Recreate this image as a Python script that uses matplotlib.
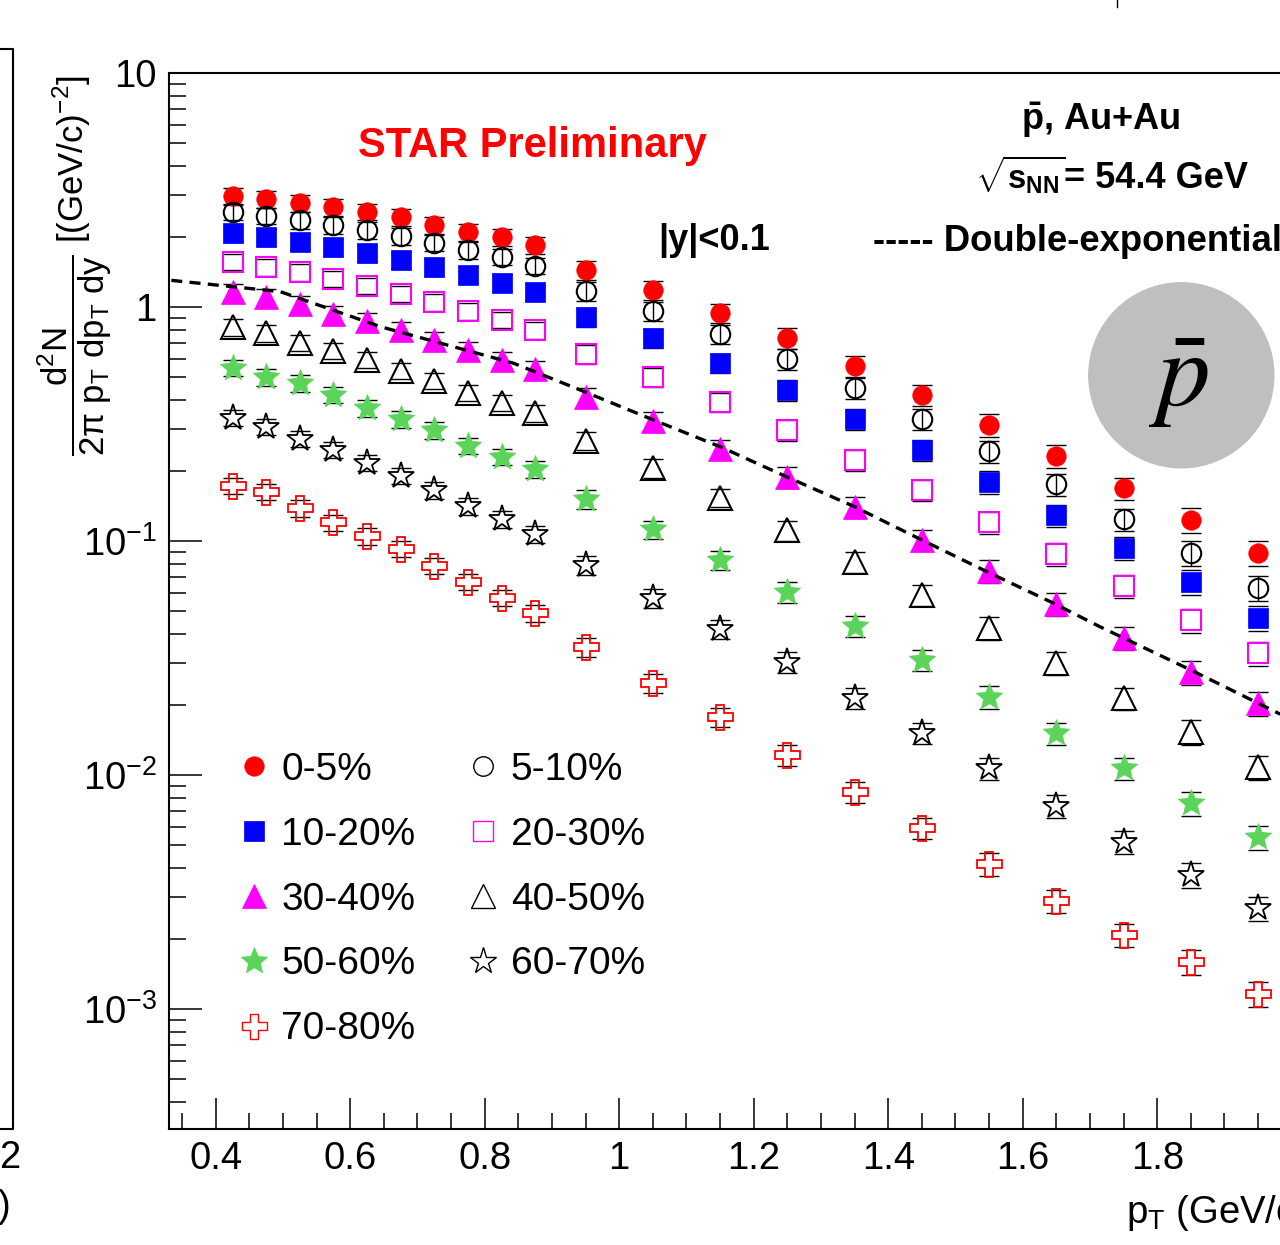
"""Anti-proton pT spectra in Au+Au at 54.4 GeV, STAR-preliminary style panel."""

import matplotlib
matplotlib.use("Agg")
import matplotlib.pyplot as plt
import numpy as np
from matplotlib.lines import Line2D
from matplotlib.patches import Ellipse
from matplotlib.path import Path
from matplotlib.ticker import FixedLocator, LogLocator, MultipleLocator, NullFormatter

plt.rcParams["font.family"] = ["Liberation Sans", "DejaVu Sans"]
plt.rcParams["mathtext.fontset"] = "custom"
plt.rcParams["mathtext.rm"] = "Liberation Sans"
plt.rcParams["mathtext.it"] = "Liberation Sans:italic"
plt.rcParams["mathtext.bf"] = "Liberation Sans:bold"
plt.rcParams["mathtext.default"] = "regular"

# ---- data ----
pt = [0.425, 0.475, 0.525, 0.575, 0.625, 0.675, 0.725, 0.775, 0.825, 0.875,
      0.95, 1.05, 1.15, 1.25, 1.35, 1.45, 1.55, 1.65, 1.75, 1.85, 1.95]

cent_labels = ["0-5%", "5-10%", "10-20%", "20-30%", "30-40%",
               "40-50%", "50-60%", "60-70%", "70-80%"]

y_0_5 = [2.98, 2.89, 2.78, 2.67, 2.55, 2.42, 2.24, 2.09, 1.99, 1.84,
         1.44, 1.18, 0.943, 0.737, 0.560, 0.421, 0.313, 0.231, 0.168, 0.123, 0.0889]
y_5_10 = [2.55, 2.45, 2.35, 2.24, 2.13, 2.01, 1.88, 1.75, 1.64, 1.50,
          1.17, 0.961, 0.767, 0.600, 0.451, 0.332, 0.242, 0.175, 0.124, 0.0889, 0.0630]
y_10_20 = [2.07, 1.99, 1.90, 1.80, 1.70, 1.59, 1.48, 1.37, 1.27, 1.16,
           0.906, 0.737, 0.576, 0.442, 0.332, 0.245, 0.179, 0.129, 0.0933, 0.0668, 0.0469]
y_20_30 = [1.56, 1.48, 1.41, 1.32, 1.23, 1.14, 1.05, 0.961, 0.880, 0.797,
           0.630, 0.502, 0.393, 0.298, 0.222, 0.165, 0.120, 0.0880, 0.0642, 0.0459, 0.0332]
y_30_40 = [1.16, 1.10, 1.03, 0.933, 0.871, 0.797, 0.723, 0.655, 0.594, 0.543,
           0.413, 0.326, 0.247, 0.188, 0.140, 0.101, 0.0745, 0.0538, 0.0385, 0.0275, 0.0203]
y_40_50 = [0.821, 0.774, 0.702, 0.649, 0.594, 0.533, 0.483, 0.429, 0.389, 0.352,
           0.268, 0.205, 0.153, 0.111, 0.0813, 0.0588, 0.0425, 0.0301, 0.0213, 0.0153, 0.0108]
y_50_60 = [0.549, 0.502, 0.473, 0.421, 0.370, 0.332, 0.298, 0.255, 0.229, 0.203,
           0.151, 0.112, 0.0830, 0.0606, 0.0433, 0.0310, 0.0216, 0.0151, 0.0107, 0.00759, 0.00543]
y_60_70 = [0.336, 0.307, 0.273, 0.245, 0.216, 0.190, 0.165, 0.141, 0.124, 0.107,
           0.0789, 0.0571, 0.0421, 0.0304, 0.0213, 0.0151, 0.0107, 0.00738, 0.00517, 0.00374, 0.00270]
y_70_80 = [0.172, 0.162, 0.138, 0.120, 0.105, 0.0925, 0.0782, 0.0668, 0.0571, 0.0492,
           0.0352, 0.0247, 0.0177, 0.0122, 0.00846, 0.00594, 0.00417, 0.00290, 0.00207, 0.00159, 0.00116]

# relative size of the (black) error bars, per pT bin
rel_err = [0.08, 0.08, 0.08, 0.08, 0.08, 0.08, 0.08, 0.08, 0.08, 0.08,
           0.09, 0.09, 0.09, 0.10, 0.10, 0.10, 0.11, 0.11, 0.11, 0.12, 0.12]

# double-exponential curve (drawn through the 30-40% points)
fit_pt = [0.334, 0.496, 0.645, 0.843, 0.942, 1.051, 1.150, 1.249, 1.348,
          1.447, 1.547, 1.646, 1.715, 1.850, 1.983]
fit_y = [1.30, 1.163, 0.824, 0.575, 0.442, 0.329, 0.253, 0.188, 0.141,
         0.102, 0.0739, 0.0542, 0.0430, 0.0281, 0.0182]

xtick_vals = [0.4, 0.6, 0.8, 1.0, 1.2, 1.4, 1.6, 1.8, 2.0]
xtick_labels = ["0.4", "0.6", "0.8", "1", "1.2", "1.4", "1.6", "1.8", "2"]
ytick_vals = [1e-3, 1e-2, 1e-1, 1, 10]
ytick_labels = [r"$10^{-3}$", r"$10^{-2}$", r"$10^{-1}$", "1", "10"]

# ---- styles ----
GREEN = "#5ad55a"
fat_star = Path.unit_regular_star(5, innerCircle=0.45)
styles = [
    dict(marker="o", ms=14, mfc="red", mec="red", mew=0.5),
    dict(marker="o", ms=14, mfc="none", mec="black", mew=1.5),
    dict(marker="s", ms=14, mfc="blue", mec="blue", mew=0.5),
    dict(marker="s", ms=13.8, mfc="none", mec="magenta", mew=1.5),
    dict(marker="^", ms=17, mfc="magenta", mec="magenta", mew=0.5),
    dict(marker="^", ms=17, mfc="none", mec="black", mew=1.5),
    dict(marker=fat_star, ms=20, mfc=GREEN, mec=GREEN, mew=0.5),
    dict(marker="*", ms=20, mfc="none", mec="black", mew=1.3),
    dict(marker="P", ms=18, mfc="none", mec="red", mew=1.3),
]
series = [y_0_5, y_5_10, y_10_20, y_20_30, y_30_40, y_40_50, y_50_60, y_60_70, y_70_80]
# only the 5-10% points show the bar through the marker; others show just the caps
full_bar = [False, True, False, False, False, False, False, False, False]

W, H = 1280, 1245


def fx(px):
    return px / W


def fy(py):
    return 1 - py / H


fig = plt.figure(figsize=(W / 100, H / 100), dpi=100)
ax = fig.add_axes([fx(169.3), fy(1128.7), 1122.4 / W, (1128.7 - 73) / H])
ax.set_yscale("log")
ax.set_xlim(0.331, 2.0)
ax.set_ylim(3.08e-4, 10)

for i, (vals, st) in enumerate(zip(series, styles)):
    vals = np.asarray(vals)
    ax.errorbar(pt, vals, yerr=vals * np.asarray(rel_err), fmt="none", ecolor="black",
                elinewidth=1.0 if full_bar[i] else 0, capsize=7, capthick=1.0,
                zorder=3 + 2 * i)
    ax.plot(pt, vals, ls="none", zorder=4 + 2 * i, **st)

ax.plot(fit_pt, fit_y, color="black", lw=2.4, ls=(0, (3.3, 2.2)), zorder=30)

# axes styling (ROOT-like: inward ticks on left/bottom only)
ax.set_xticks(xtick_vals, labels=xtick_labels)
ax.xaxis.set_minor_locator(MultipleLocator(0.05))
ax.yaxis.set_major_locator(FixedLocator(ytick_vals))
ax.set_yticklabels(ytick_labels)
ax.yaxis.set_minor_locator(LogLocator(base=10, subs=np.arange(2, 10), numticks=30))
ax.yaxis.set_minor_formatter(NullFormatter())
ax.tick_params(which="both", direction="in", top=False, right=False, width=1.1,
               labelsize=27.5)
ax.tick_params(axis="x", which="major", length=22.3, pad=9)
ax.tick_params(axis="x", which="minor", length=11.5)
ax.tick_params(axis="y", which="major", length=23.8, pad=9)
ax.tick_params(axis="y", which="minor", length=12.2)
for sp in ax.spines.values():
    sp.set_linewidth(1.5)

# legend (two columns)
handles = []
leg_order = [0, 2, 4, 6, 8, 1, 3, 5, 7]
for k in leg_order:
    st = dict(styles[k])
    if st["mfc"] == "none":
        st["mew"] = 1.0
    handles.append(Line2D([], [], ls="none", **st))
leg = ax.legend(handles, [cent_labels[k] for k in leg_order], ncol=2, frameon=False,
                fontsize=28, loc="upper left", bbox_to_anchor=(fx(238.5), fy(752)),
                bbox_transform=fig.transFigure, borderpad=0, borderaxespad=0,
                handlelength=0.8, handletextpad=0.3, columnspacing=1.35,
                labelspacing=0.74)

# annotations
fig.text(fx(358), fy(157), "STAR Preliminary", color="red", weight="bold",
         size=30, ha="left", va="baseline")
fig.text(fx(1021), fy(130), r"$\bar{\mathbf{p}}$, Au+Au", weight="bold",
         size=26, ha="left", va="baseline")
fig.text(fx(975), fy(188), r"$\sqrt{\mathbf{s}_{\mathbf{NN}}}$", weight="bold",
         size=23.5, ha="left", va="baseline")
fig.text(fx(1064), fy(188), "= 54.4 GeV", weight="bold", size=26, ha="left", va="baseline")
fig.text(fx(658), fy(250), "|y|<0.1", weight="bold", size=26, ha="left", va="baseline")
fig.text(fx(873), fy(251), "----- Double-exponential", weight="bold", size=26.3,
         ha="left", va="baseline")

badge = Ellipse((fx(1181.3), fy(375.3)), 2 * 92.5 / W, 2 * 92.5 / H,
                transform=fig.transFigure, color="#bfbfbf", zorder=40)
fig.add_artist(badge)
fig.text(fx(1178), fy(380), r"$\bar{\mathit{p}}$", math_fontfamily="stix", size=77,
         ha="center", va="center", zorder=41)

fig.text(fx(1126), fy(1223), r"p$_{T}$ (GeV/c)", size=27.5, ha="left", va="baseline")
fig.text(fx(75), fy(75), r"$\dfrac{d^{2}N}{2\pi\ p_{T}\ dp_{T}\ dy}$ [(GeV/c)$^{-2}$]",
         size=25, rotation=90, ha="center", va="top")

# edge of the neighbouring panel
fig.add_artist(Line2D([0, fx(13), fx(13), 0], [fy(49), fy(49), fy(1128.7), fy(1128.7)],
                      transform=fig.transFigure, color="black", lw=1.5))
fig.text(fx(10), fy(1158), "2", size=27.5, ha="center", va="center")
fig.text(fx(4), fy(1207), ")", size=27.5, ha="center", va="center")
fig.add_artist(Line2D([fx(1116.7), fx(1116.7)], [fy(0), fy(7)],
                      transform=fig.transFigure, color="black", lw=1.0))

fig.savefig("out.png", dpi=100)
plt.close(fig)
